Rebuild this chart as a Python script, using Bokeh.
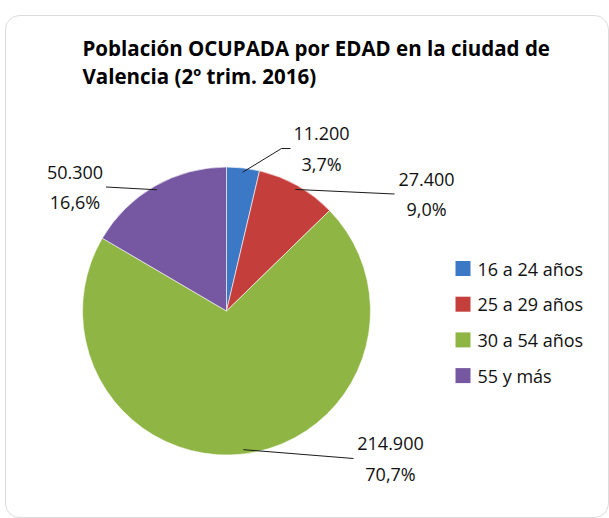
import math
from bokeh.plotting import figure
from bokeh.models import Range1d, BoxAnnotation, Label, ColumnDataSource
from bokeh.core.properties import value
from bokeh.embed import file_html
from bokeh.resources import INLINE

# ---- data ----
categories = ["16 a 24 años", "25 a 29 años", "30 a 54 años", "55 y más"]
values = [11200, 27400, 214900, 50300]
colors = ["#3B79C6", "#C43F3C", "#8FB545", "#7657A1"]
title_lines = ["Población OCUPADA por EDAD en la ciudad de", "Valencia (2º trim. 2016)"]

# ---- layout ----
W, H = 609, 518
def px(x):
    return x
def py(y):
    return H - y

FONT = "Open Sans"
cx, cy, R = px(226), py(310.5), 144
# label centres relative to pie centre (screen offsets, y down)
label_off = [(95, -162.5), (200, -117), (164, 147.5), (-151.5, -124)]
# leader end points relative to label centre (elbow dx, end dx)
leader_end = [(-40, -31), (-32, -32), (-37, -37), (31, 31)]

p = figure(width=W, height=H, x_range=Range1d(0, W), y_range=Range1d(0, H),
           output_backend="svg", toolbar_location=None, min_border=0,
           x_axis_location=None, y_axis_location=None)
p.grid.visible = False
p.outline_line_color = None
p.background_fill_color = "white"
p.border_fill_color = "white"

total = sum(values)
fr = [v / total for v in values]
cum = [sum(fr[:i]) for i in range(len(fr) + 1)]
start = [math.pi / 2 - 2 * math.pi * cum[i] for i in range(len(fr))]
end = [math.pi / 2 - 2 * math.pi * cum[i + 1] for i in range(len(fr))]
mid = [2 * math.pi * (cum[i] + cum[i + 1]) / 2 for i in range(len(fr))]

src = ColumnDataSource(dict(start=start, end=end, color=colors, cat=categories))
p.wedge(x=cx, y=cy, radius=R, start_angle="start", end_angle="end",
        direction="clock", fill_color="color", line_color="white",
        line_width=0.6, source=src)

# leaders
xs, ys = [], []
for i in range(len(values)):
    sx = cx + 0.97 * R * math.sin(mid[i])
    sy = cy + 0.97 * R * math.cos(mid[i])
    lx = cx + label_off[i][0]
    ly = cy - label_off[i][1]
    ex1 = lx + leader_end[i][0]
    ex2 = lx + leader_end[i][1]
    xs.append([sx, ex1, ex2])
    ys.append([sy, ly, ly])
p.multi_line(xs=xs, ys=ys, line_color="#1a1a1a", line_width=1)

# data labels
val_txt = [f"{v:,}".replace(",", ".") for v in values]
pct_txt = [f"{f*100:.1f}".replace(".", ",") + "%" for f in fr]
lab_x = [cx + o[0] for o in label_off]
lab_y = [cy - o[1] for o in label_off]
p.text(x=lab_x, y=[y + 15 for y in lab_y], text=val_txt, text_align="center",
       text_baseline="middle", text_font_size="18px", text_font=value(FONT),
       text_color="#111111")
p.text(x=lab_x, y=[y - 15 for y in lab_y], text=pct_txt, text_align="center",
       text_baseline="middle", text_font_size="18px", text_font=value(FONT),
       text_color="#111111")

# legend (manual)
leg_y0, leg_step = py(268), -35.7
leg_y = [leg_y0 + i * leg_step for i in range(len(categories))]
p.rect(x=px(462.5), y=leg_y, width=15, height=15, width_units="screen",
       height_units="screen", fill_color=colors, line_color=None)
p.text(x=px(477), y=leg_y, text=categories, text_baseline="middle",
       text_font_size="18px", text_font=value(FONT), text_color="#111111")

# title
for i, t in enumerate(title_lines):
    p.add_layout(Label(x=px(82), y=py(47) - 28 * i, text=t, text_baseline="middle",
                       text_font=FONT, text_font_style="bold",
                       text_font_size="20.5px", text_color="#000000"))

# border
p.add_layout(BoxAnnotation(left=px(5), right=px(608), bottom=py(517), top=py(15),
                           border_radius=14, fill_color=None, fill_alpha=0,
                           line_color="#8c8c8c", line_width=1))

open("out.html", "w").write(file_html(p, INLINE))
